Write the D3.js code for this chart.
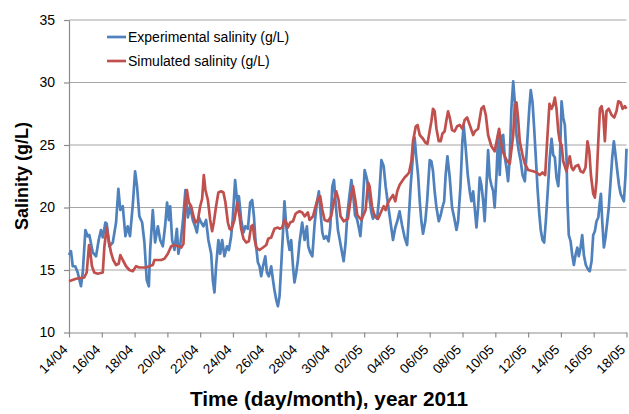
<!DOCTYPE html>
<html>
<head>
<meta charset="utf-8">
<script src="https://cdn.jsdelivr.net/npm/d3@7"></script>
<style>
  body { margin: 0; background: #fff; }
  svg { display: block; }
</style>
</head>
<body>
<span></span>
<script>
// salinity chart, experimental vs simulated, April-May 2011

// time in days after 14/04/2011 00:00
var expDays = [0.00,0.12,0.23,0.38,0.53,0.73,0.84,1.00,1.14,1.24,
  1.45,1.65,1.81,1.95,2.06,2.22,2.30,2.46,2.67,2.87,
  3.01,3.13,3.28,3.44,3.58,3.72,3.89,4.03,4.15,4.29,
  4.46,4.60,4.74,4.87,4.95,5.11,5.25,5.42,5.56,5.72,
  5.86,5.98,6.09,6.17,6.29,6.43,6.58,6.67,6.80,6.94,
  7.10,7.25,7.39,7.55,7.69,7.80,7.92,8.06,8.20,8.36,
  8.50,8.67,8.77,8.87,8.97,9.11,9.22,9.34,9.48,9.63,
  9.75,9.89,9.99,10.13,10.26,10.36,10.50,10.64,10.76,10.91,
  11.05,11.17,11.28,11.37,11.52,11.62,11.72,11.83,11.97,12.07,
  12.19,12.33,12.44,12.53,12.64,12.74,12.84,12.94,13.05,13.14,
  13.25,13.35,13.45,13.55,13.66,13.75,13.86,13.96,14.06,14.22,
  14.37,14.51,14.59,14.71,14.84,14.98,15.12,15.24,15.34,15.45,
  15.55,15.69,15.83,15.93,16.06,16.16,16.26,16.40,16.50,16.65,
  16.75,16.87,16.97,17.11,17.22,17.32,17.44,17.56,17.69,17.77,
  17.89,18.03,18.17,18.30,18.44,18.54,18.64,18.79,18.91,19.05,
  19.19,19.31,19.46,19.60,19.76,19.90,20.02,20.16,20.31,20.47,
  20.62,20.71,20.84,20.98,21.08,21.18,21.29,21.39,21.49,21.59,
  21.73,21.84,22.00,22.10,22.20,22.30,22.41,22.55,22.67,22.77,
  22.88,22.97,23.08,23.22,23.36,23.49,23.63,23.73,23.87,23.99,
  24.07,24.19,24.32,24.44,24.54,24.65,24.74,24.85,24.95,25.05,
  25.15,25.26,25.35,25.46,25.56,25.66,25.76,25.87,25.96,26.07,
  26.17,26.27,26.37,26.48,26.58,26.68,26.78,26.88,26.98,27.09,
  27.19,27.29,27.43,27.55,27.66,27.80,27.90,28.07,28.16,28.27,
  28.37,28.47,28.57,28.68,28.77,28.88,28.98,29.08,29.22,29.32,
  29.43,29.53,29.63,29.73,29.84,29.93,30.04,30.14,30.24,30.34,
  30.40,30.48,30.59,30.69,30.79,30.89,31.00,31.09,31.20,31.30,
  31.40,31.52,31.67,31.76,31.87,31.97,32.07,32.17,32.28,32.38,
  32.44,32.52,32.62,32.72,32.83,32.92,33.03,33.13,33.23,33.33,
  33.44,33.54,33.64,33.74,33.84,33.94,34.00];

var expSalinity = [16.2,16.5,15.3,15.3,14.8,13.7,14.8,18.2,17.7,17.8,
  16.4,16.1,17.4,18.2,17.6,18.8,18.7,16.9,17.2,18.8,
  21.5,19.8,20.1,17.7,18.5,17.7,20.2,22.9,21.7,19.3,
  18.8,17.2,14.2,13.7,16.6,19.8,17.2,18.5,17.4,16.9,
  18.5,20.4,19.0,20.1,17.4,16.6,18.3,16.3,17.2,18.8,
  21.4,19.2,20.1,19.0,18.5,18.0,19.2,18.8,18.5,19.0,
  17.4,16.3,14.2,13.2,15.3,17.4,16.3,17.4,16.1,16.9,
  16.6,17.7,19.2,22.2,20.4,20.9,19.0,18.0,18.5,18.3,
  20.4,20.6,19.3,17.4,15.6,15.3,14.5,15.3,16.1,14.8,
  14.5,15.3,14.2,13.4,12.6,12.1,12.9,15.3,18.0,20.5,
  18.5,17.4,16.6,17.4,15.3,14.0,14.8,15.8,17.2,18.8,
  17.4,18.5,16.9,16.4,16.1,18.7,20.4,21.3,19.6,18.0,
  17.5,17.7,17.3,18.4,21.7,22.2,20.4,18.2,17.5,16.4,
  15.7,17.2,19.4,21.0,22.2,21.2,19.4,19.1,18.3,17.7,
  19.6,23.0,22.3,21.0,19.6,19.1,19.4,19.1,20.7,23.8,
  23.3,21.7,20.2,18.9,17.4,18.4,18.9,19.7,18.6,17.6,
  17.0,18.9,21.8,24.2,25.6,24.0,22.6,20.5,18.9,17.9,
  18.9,20.5,23.8,23.7,22.9,21.3,20.0,18.9,19.4,20.0,
  20.5,22.6,24.1,22.4,20.0,19.2,18.2,18.9,21.6,25.3,
  26.6,24.8,22.6,21.3,20.5,21.3,20.0,18.4,20.0,22.4,
  21.8,20.5,18.9,21.8,24.6,22.4,21.8,21.3,20.0,22.6,
  25.8,22.6,25.7,25.8,24.0,23.2,22.1,24.0,27.9,30.1,
  28.4,25.8,24.5,23.7,22.6,22.1,24.2,27.9,29.4,28.4,
  26.3,24.0,21.6,19.5,18.2,17.4,17.2,18.9,21.8,24.0,
  25.5,24.2,24.0,22.4,21.7,23.5,28.5,27.2,26.6,24.0,
  20.5,17.8,17.3,16.2,15.4,16.2,16.8,16.1,16.8,17.8,
  16.2,15.4,15.0,14.9,15.7,17.8,18.1,18.9,19.2,20.5,
  21.1,18.9,16.8,17.6,18.9,20.0,22.1,24.0,25.3,24.2,
  22.9,21.8,21.1,20.8,20.5,22.6,24.7];

var simDays = [0.00,0.43,0.93,1.08,1.22,1.30,1.40,1.54,1.75,2.06,
  2.16,2.30,2.42,2.56,2.70,2.87,3.03,3.13,3.28,3.48,
  3.68,3.89,4.09,4.29,4.70,5.11,5.21,5.62,5.82,6.03,
  6.23,6.43,6.64,6.84,6.98,7.10,7.19,7.31,7.45,7.59,
  7.71,7.86,8.00,8.12,8.22,8.32,8.47,8.61,8.73,8.83,
  8.97,9.11,9.28,9.42,9.54,9.69,9.79,9.89,10.09,10.26,
  10.40,10.50,10.64,10.81,10.97,11.11,11.21,11.31,11.42,11.62,
  11.83,12.03,12.15,12.33,12.53,12.74,12.84,13.00,13.14,13.25,
  13.35,13.49,13.66,13.82,13.92,14.06,14.22,14.37,14.57,14.67,
  14.88,15.04,15.18,15.32,15.45,15.59,15.79,15.99,16.14,16.30,
  16.44,16.56,16.75,17.01,17.17,17.32,17.46,17.58,17.83,18.09,
  18.24,18.33,18.48,18.64,18.85,19.05,19.19,19.31,19.46,19.55,
  19.76,19.90,20.02,20.16,20.31,20.47,20.62,20.74,20.88,20.98,
  21.15,21.26,21.39,21.59,21.73,21.86,22.10,22.20,22.30,22.41,
  22.55,22.67,22.77,22.91,23.02,23.12,23.22,23.36,23.52,23.67,
  23.83,23.99,24.13,24.28,24.44,24.65,24.76,24.95,25.15,25.29,
  25.42,25.56,25.76,25.96,26.11,26.23,26.33,26.48,26.68,26.88,
  27.09,27.19,27.29,27.39,27.49,27.66,27.80,28.00,28.31,28.51,
  28.71,28.88,29.04,29.16,29.30,29.43,29.53,29.63,29.73,29.84,
  29.93,30.04,30.14,30.24,30.34,30.45,30.54,30.65,30.75,30.89,
  31.06,31.20,31.36,31.50,31.62,31.73,31.83,31.97,32.07,32.17,
  32.28,32.38,32.48,32.58,32.68,32.78,32.92,33.09,33.25,33.39,
  33.50,33.64,33.76,33.90,34.00];

var simSalinity = [14.1,14.3,14.4,14.8,17.0,16.4,15.3,14.8,14.7,14.8,
  16.9,18.4,17.4,16.4,15.8,15.4,15.5,16.2,15.8,15.3,
  15.0,14.9,15.3,15.2,15.2,15.4,15.8,15.8,15.9,16.3,
  16.9,17.0,16.9,16.8,17.1,20.4,21.4,20.4,20.1,19.3,
  18.8,19.0,20.1,20.7,22.6,21.4,20.6,19.0,18.1,18.8,
  20.1,21.2,21.3,21.2,20.4,18.8,18.3,18.2,19.0,20.4,
  19.3,18.3,17.5,17.2,17.3,18.5,18.6,17.5,16.8,16.6,
  16.8,17.0,17.5,17.6,18.3,18.4,18.3,18.4,19.0,18.8,
  18.4,18.8,18.9,19.5,19.6,19.7,19.6,19.3,19.6,19.0,
  19.3,20.1,20.7,20.9,19.8,19.0,18.9,19.3,20.4,21.3,
  20.6,19.3,18.9,19.1,20.6,21.7,20.6,19.4,19.0,19.8,
  22.0,21.7,20.1,19.3,19.1,19.7,20.1,19.8,20.4,20.6,
  21.0,20.5,21.3,21.8,22.1,22.4,22.6,22.8,23.7,25.3,
  26.5,26.6,25.8,25.5,25.2,25.1,26.9,27.9,27.7,26.3,
  25.3,25.3,25.9,26.1,27.0,27.7,27.2,26.2,26.1,26.5,
  26.6,26.3,27.0,27.2,26.6,25.8,26.1,26.3,27.9,28.1,
  27.4,25.8,24.9,24.5,25.5,26.3,25.3,24.4,23.8,23.5,
  25.8,28.2,28.4,27.1,25.3,24.2,23.5,23.0,22.9,22.8,
  22.6,22.8,22.6,25.3,28.3,27.9,28.2,28.8,27.9,26.1,
  25.3,25.0,23.7,23.3,22.9,23.6,24.1,23.2,23.0,23.3,
  23.4,22.9,22.8,23.2,25.3,24.5,22.6,21.1,20.8,22.1,
  25.3,27.9,28.1,27.4,25.3,27.7,27.9,27.4,27.2,27.7,
  28.5,28.4,27.9,28.1,27.9];

var yTicks = [10, 15, 20, 25, 30, 35];
var xTickDays = [0, 2, 4, 6, 8, 10, 12, 14, 16, 18, 20, 22, 24, 26, 28, 30, 32, 34];
var seriesNames = ["Experimental salinity (g/L)", "Simulated salinity (g/L)"];
var seriesColors = ["#4f81bd", "#c0504d"];

var width = 629;
var height = 414;
var margin = {top: 20, right: 2.5, bottom: 81.5, left: 69};

var start = Date.UTC(2011, 3, 14);
function toDate(d) { return new Date(start + d * 864e5); }

var svg = d3.select("span")
    .append("svg")
    .attr("width", width)
    .attr("height", height)
    .style("font-family", "'Liberation Sans', Arial, sans-serif");

var xScale = d3.scaleUtc()
    .domain([toDate(0), toDate(34)])
    .range([margin.left, width - margin.right]);
var yScale = d3.scaleLinear()
    .domain([10, 35])
    .range([height - margin.bottom, margin.top]);

// horizontal gridlines
svg.append("g")
    .selectAll("line")
    .data(yTicks.slice(1))
    .join("line")
    .attr("x1", margin.left)
    .attr("x2", width - margin.right)
    .attr("y1", d => yScale(d))
    .attr("y2", d => yScale(d))
    .attr("stroke", "#a6a6a6")
    .attr("stroke-width", 1.2);

// y axis
var yAxis = svg.append("g")
    .attr("transform", `translate(${margin.left},0)`)
    .call(d3.axisLeft(yScale).tickValues(yTicks).tickSize(5).tickSizeOuter(0).tickPadding(9));
yAxis.selectAll("path, line").attr("stroke", "#8c8c8c").attr("stroke-width", 1.2);
yAxis.selectAll("text").attr("font-size", 14).attr("fill", "#000")
    .style("font-family", "'Liberation Sans', Arial, sans-serif");

// x axis
var xAxis = svg.append("g")
    .attr("transform", `translate(0,${height - margin.bottom})`)
    .call(d3.axisBottom(xScale)
        .tickValues(xTickDays.map(toDate))
        .tickFormat(d3.utcFormat("%d/%m"))
        .tickSize(5)
        .tickSizeOuter(0));
xAxis.selectAll("path, line").attr("stroke", "#8c8c8c").attr("stroke-width", 1.2);
xAxis.selectAll("text")
    .attr("font-size", 13.5)
    .attr("fill", "#000")
    .style("font-family", "'Liberation Sans', Arial, sans-serif")
    .attr("text-anchor", "end")
    .attr("dy", null)
    .attr("y", 0)
    .attr("transform", "translate(-1,18) rotate(-45)");

// lines
var line = d3.line()
    .x(d => xScale(toDate(d[0])))
    .y(d => yScale(d[1]));

svg.append("path")
    .datum(d3.zip(expDays, expSalinity))
    .attr("fill", "none")
    .attr("stroke", seriesColors[0])
    .attr("stroke-width", 2.7)
    .attr("stroke-linejoin", "round")
    .attr("d", line);

svg.append("path")
    .datum(d3.zip(simDays, simSalinity))
    .attr("fill", "none")
    .attr("stroke", seriesColors[1])
    .attr("stroke-width", 2.7)
    .attr("stroke-linejoin", "round")
    .attr("d", line);

// legend
var legend = svg.append("g")
    .selectAll("g")
    .data(seriesNames)
    .join("g")
    .attr("transform", (d, i) => `translate(107,${37 + i * 24})`);
legend.append("line")
    .attr("x1", 0).attr("x2", 19)
    .attr("stroke", (d, i) => seriesColors[i])
    .attr("stroke-width", 2.7);
legend.append("text")
    .attr("x", 21)
    .attr("y", 5)
    .attr("font-size", 14)
    .text(d => d);

// axis titles
svg.append("text")
    .attr("transform", "translate(28,176) rotate(-90)")
    .attr("text-anchor", "middle")
    .attr("font-size", 18)
    .attr("font-weight", "bold")
    .text("Salinity (g/L)");

svg.append("text")
    .attr("x", 329)
    .attr("y", 406)
    .attr("text-anchor", "middle")
    .attr("font-size", 20)
    .attr("font-weight", "bold")
    .attr("textLength", 278)
    .attr("lengthAdjust", "spacingAndGlyphs")
    .text("Time (day/month), year 2011");
</script>
</body>
</html>
